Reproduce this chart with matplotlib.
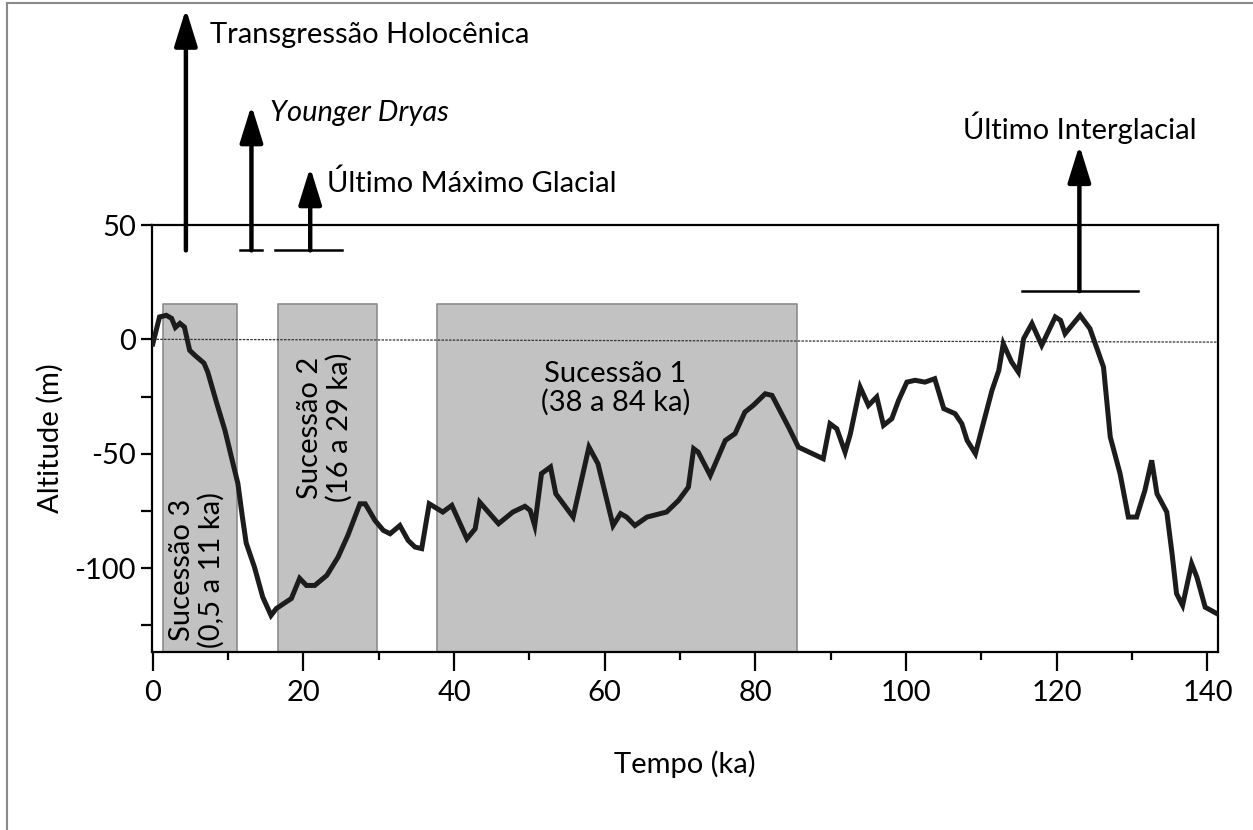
import matplotlib
matplotlib.use("Agg")
import matplotlib.pyplot as plt
from matplotlib.lines import Line2D
from matplotlib.ticker import FixedLocator

plt.rcParams['font.family'] = ['Lato', 'DejaVu Sans']
plt.rcParams['axes.unicode_minus'] = False

# curva do nivel do mar (ka, m)
tempo = [0.0, 0.9, 1.8, 2.5, 3.0, 3.6, 4.2, 4.9, 5.6, 6.8, 7.3, 8.5, 9.6, 10.7,
         11.3, 11.9, 12.4, 13.5, 14.6, 15.7, 16.4, 18.4, 19.5, 20.4, 21.5, 23.1,
         24.6, 25.9, 27.5, 28.2, 29.5, 30.6, 31.5, 32.8, 33.9, 34.8, 35.7, 36.7,
         38.5, 39.7, 41.7, 42.8, 43.4, 45.9, 47.8, 49.4, 50.1, 50.7, 51.6, 52.8,
         53.5, 55.8, 57.9, 59.1, 61.1, 62.1, 62.9, 64.0, 65.6, 68.2, 69.8, 71.1,
         71.8, 72.4, 74.0, 76.0, 77.3, 78.6, 79.7, 81.3, 82.2, 84.4, 85.7, 89.0,
         89.9, 90.8, 91.9, 92.6, 93.9, 95.0, 96.1, 97.0, 98.1, 99.0, 100.1, 101.2,
         102.5, 103.8, 105.0, 106.5, 107.4, 108.1, 109.2, 110.0, 111.4, 112.3,
         112.9, 114.0, 114.9, 115.6, 116.7, 118.0, 119.8, 120.5, 121.1, 123.1,
         124.4, 126.2, 127.1, 128.4, 129.5, 130.6, 131.7, 132.6, 133.3, 134.6,
         135.3, 135.9, 136.7, 137.9, 138.6, 139.7, 141.3]
altitude = [-2.0, 9.8, 10.5, 9.2, 5.2, 7.0, 5.4, -4.8, -7.0, -10.4, -14.3, -28.0,
            -40.0, -55.0, -63.0, -77.7, -89.0, -99.6, -112.7, -120.7, -117.7,
            -113.3, -104.5, -107.6, -107.6, -103.2, -95.2, -85.7, -71.9, -71.9,
            -79.2, -83.5, -85.0, -81.4, -87.9, -90.8, -91.5, -71.9, -75.5, -72.6,
            -87.2, -82.8, -71.2, -80.6, -75.5, -73.0, -74.8, -81.4, -58.7, -55.8,
            -67.5, -77.7, -47.1, -54.4, -81.4, -76.2, -77.7, -81.4, -77.7, -75.5,
            -70.4, -64.6, -47.8, -49.3, -59.5, -44.2, -41.2, -31.8, -28.9, -23.8,
            -24.5, -38.4, -47.1, -52.2, -36.9, -39.1, -49.3, -41.3, -20.9, -28.9,
            -25.2, -37.6, -34.7, -26.7, -18.7, -17.9, -18.7, -17.2, -30.3, -32.5,
            -36.9, -44.2, -50.0, -39.8, -22.3, -13.6, -1.9, -9.9, -14.3, 0.3, 6.9,
            -2.6, 9.8, 8.3, 2.5, 10.5, 4.7, -12.1, -42.7, -58.7, -77.7, -77.7,
            -66.0, -52.9, -67.5, -75.5, -93.7, -111.2, -116.3, -98.1, -104.0,
            -117.1, -120.0]

# sucessoes (inicio, fim, topo)
suc_inicio = [1.3, 16.6, 37.7]
suc_fim = [11.2, 29.7, 85.5]
suc_topo = 15.3
suc_textos = ['Sucessão 3\n(0,5 a 11 ka)', 'Sucessão 2\n(16 a 29 ka)',
              'Sucessão 1\n(38 a 84 ka)']

fig = plt.figure(figsize=(12.53, 8.30), dpi=100)
ax = fig.add_axes([152/1253, 1-652/830, (1218-152)/1253, (652-225)/830])

ymin, ymax = -136.7, 50
xmin, xmax = -0.1, 141.4
fs = 21

for x0, x1 in zip(suc_inicio, suc_fim):
    ax.fill_between([x0, x1], ymin, suc_topo, facecolor='#c2c2c2',
                    edgecolor='#8c8c8c', lw=1.2, zorder=1)

ax.plot([0, xmax], [0, -1.2], color='#333333', lw=0.9, ls=(0, (2, 1)), zorder=2)
ax.plot(tempo, altitude, color='#1c1c1c', lw=3.6, zorder=4,
        solid_joinstyle='miter')

ax.text(5.9, -101, suc_textos[0], rotation=90, ha='center', va='center',
        fontsize=fs, linespacing=1.12, zorder=3)
ax.text(22.8, -38.5, suc_textos[1], rotation=90, ha='center', va='center',
        fontsize=fs, linespacing=1.12, zorder=3)
ax.text(61.4, -21.4, suc_textos[2], ha='center', va='center',
        fontsize=fs, linespacing=1.12, zorder=3)

# setas
def seta(x, y0, y1):
    ax.annotate('', xy=(x, y1), xytext=(x, y0), annotation_clip=False,
                arrowprops=dict(arrowstyle='-|>,head_length=0.9,head_width=0.28',
                                mutation_scale=25, lw=3.2, color='black',
                                shrinkA=0, shrinkB=0))

seta(4.4, 38.9, 144.5)
seta(13.1, 38.9, 102.3)
seta(20.9, 38.9, 75.2)
seta(123.0, 21.1, 84.9)
ax.plot([11.6, 14.5], [38.9, 38.9], color='black', lw=1.8, clip_on=False)
ax.plot([16.2, 25.1], [38.9, 38.9], color='black', lw=1.8, clip_on=False)
ax.plot([115.4, 130.8], [21.1, 21.1], color='black', lw=1.8, clip_on=False)

ax.text(7.6, 133, 'Transgressão Holocênica', fontsize=fs, va='center',
        clip_on=False)
ax.text(15.5, 98.9, 'Younger Dryas', fontsize=fs, va='center',
        style='italic', clip_on=False)
ax.text(23.1, 68.2, 'Último Máximo Glacial', fontsize=fs, va='center',
        clip_on=False)
ax.text(123.0, 92.7, 'Último Interglacial', fontsize=fs, va='center',
        ha='center', clip_on=False)

ax.set_xlim(xmin, xmax)
ax.set_ylim(ymin, ymax)
ax.xaxis.set_major_locator(FixedLocator([0, 20, 40, 60, 80, 100, 120, 140]))
ax.xaxis.set_minor_locator(FixedLocator([10, 30, 50, 70, 90, 110, 130]))
ax.yaxis.set_major_locator(FixedLocator([50, 0, -50, -100]))
ax.yaxis.set_minor_locator(FixedLocator([-25, -75, -125]))
ax.tick_params(axis='x', which='major', length=14, width=1.6, labelsize=fs,
               pad=6)
ax.tick_params(axis='x', which='minor', length=6, width=1.6)
ax.tick_params(axis='y', which='both', length=8, width=1.6, labelsize=fs)
for s in ax.spines.values():
    s.set_linewidth(1.6)

ax.set_xlabel('Tempo (ka)', fontsize=fs, labelpad=32)
ax.set_ylabel('Altitude (m)', fontsize=fs, labelpad=8)

# moldura da figura
fig.add_artist(Line2D([7/1253, 7/1253], [0, 1-3/830], color='#8a8a8a', lw=1.5))
fig.add_artist(Line2D([7/1253, 1], [1-3/830, 1-3/830], color='#8a8a8a', lw=1.5))

fig.savefig('out.png', dpi=100)
